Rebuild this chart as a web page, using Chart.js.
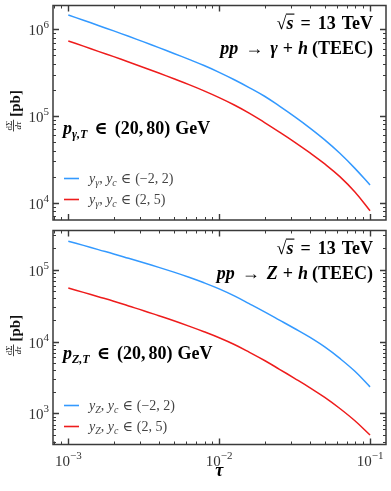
<!DOCTYPE html>
<html>
<head>
<meta charset="utf-8">
<script src="https://cdn.jsdelivr.net/npm/chart.js@4.4.1/dist/chart.umd.min.js"></script>
<style>
html, body { margin: 0; padding: 0; background: #fff; }
#wrap { position: relative; width: 391px; height: 491px; }
canvas { position: absolute; left: 0; }
</style>
</head>
<body>
<div id="wrap">
  <canvas id="cTop" width="391" height="225" style="top:0"></canvas>
  <canvas id="cBot" width="391" height="266" style="top:225px"></canvas>
</div>
<script>
// tau grid (log steps of 0.1) and curves
var tau = [0.001, 0.00126, 0.00158, 0.002, 0.00251, 0.00316, 0.00398, 0.00501, 0.00631, 0.00794,
           0.01, 0.0126, 0.0158, 0.02, 0.0251, 0.0316, 0.0398, 0.0501, 0.0631, 0.0794, 0.1];
var gammaCentral = [1.462e6, 1.274e6, 1.107e6, 9.59e5, 8.30e5, 7.16e5, 6.15e5, 5.27e5, 4.50e5, 3.82e5,
                    3.19e5, 2.62e5, 2.13e5, 1.69e5, 1.30e5, 9.84e4, 7.31e4, 5.31e4, 3.72e4, 2.49e4, 1.60e4];
var gammaForward = [7.33e5, 6.40e5, 5.57e5, 4.84e5, 4.20e5, 3.63e5, 3.13e5, 2.69e5, 2.30e5, 1.95e5,
                    1.63e5, 1.34e5, 1.08e5, 8.41e4, 6.53e4, 5.01e4, 3.78e4, 2.80e4, 2.00e4, 1.33e4, 8.09e3];
var zCentral = [2.495e5, 2.183e5, 1.905e5, 1.660e5, 1.442e5, 1.250e5, 1.079e5, 9.25e4, 7.85e4, 6.58e4,
                5.41e4, 4.32e4, 3.37e4, 2.59e4, 1.99e4, 1.52e4, 1.15e4, 8.41e3, 5.82e3, 3.85e3, 2.34e3];
var zForward = [5.55e4, 4.84e4, 4.21e4, 3.64e4, 3.13e4, 2.69e4, 2.29e4, 1.95e4, 1.64e4, 1.37e4,
                1.13e4, 9.10e3, 7.13e3, 5.45e3, 4.11e3, 3.08e3, 2.29e3, 1.67e3, 1.17e3, 789, 500];

var xTicks = [1e-3, 1e-2, 1e-1];
var xTickExp = ['\u22123', '\u22122', '\u22121'];
var yTicksGamma = [1e4, 1e5, 1e6];
var yTicksGammaExp = ['4', '5', '6'];
var yTicksZ = [1e3, 1e4, 1e5];
var yTicksZExp = ['3', '4', '5'];

var BLUE = '#3399ff';
var RED = '#ee1c1c';
var FRAME = '#3a3a3a';
var SERIF = '"Liberation Serif", "DejaVu Serif", serif';
function fnt(style, size) { return style + ' ' + size + 'px ' + SERIF; }

function richWidth(ctx, segs) {
    var w = 0;
    segs.forEach(function (s) {
        if (s.gap) { w += s.gap; return; }
        ctx.font = s.font;
        w += ctx.measureText(s.t).width;
    });
    return w;
}

function drawRich(ctx, segs, x, y, align) {
    var w = richWidth(ctx, segs);
    var cx = align === 'right' ? x - w : (align === 'center' ? x - w / 2 : x);
    ctx.textAlign = 'left';
    ctx.textBaseline = 'alphabetic';
    var radEnd = null;
    segs.forEach(function (s) {
        if (s.gap) { cx += s.gap; return; }
        ctx.font = s.font;
        ctx.fillStyle = s.color || '#000';
        ctx.fillText(s.t, cx, y + (s.dy || 0));
        var m = ctx.measureText(s.t);
        if (s.radical) radEnd = { x: cx + m.width - 0.5, top: y - m.actualBoundingBoxAscent };
        if (s.over && radEnd) {
            ctx.strokeStyle = '#000';
            ctx.lineWidth = 1.1;
            ctx.beginPath();
            ctx.moveTo(radEnd.x, radEnd.top + 0.6);
            ctx.lineTo(cx + m.width + 1, radEnd.top + 0.6);
            ctx.stroke();
        }
        cx += m.width;
    });
}

function minorValues(min, max) {
    var out = [];
    for (var n = Math.floor(Math.log10(min)); n <= Math.ceil(Math.log10(max)); n++) {
        for (var k = 2; k <= 9; k++) {
            var v = k * Math.pow(10, n);
            if (v > min && v < max) out.push(v);
        }
    }
    return out;
}

var panelPlugin = {
    id: 'panel',
    afterDraw: function (chart) {
        var o = chart.options.plugins.panel;
        var ctx = chart.ctx;
        var a = chart.chartArea;
        var xs = chart.scales.x, ys = chart.scales.y;
        ctx.save();

        // ticks, inward on all four sides
        ctx.strokeStyle = FRAME;
        ctx.lineWidth = 1;
        function hTick(v, len) {
            var py = Math.round(ys.getPixelForValue(v)) + 0.5;
            ctx.beginPath();
            ctx.moveTo(a.left, py); ctx.lineTo(a.left + len, py);
            ctx.moveTo(a.right, py); ctx.lineTo(a.right - len, py);
            ctx.stroke();
        }
        function vTick(v, len) {
            var px = Math.round(xs.getPixelForValue(v)) + 0.5;
            ctx.beginPath();
            ctx.moveTo(px, a.bottom); ctx.lineTo(px, a.bottom - len);
            ctx.moveTo(px, a.top); ctx.lineTo(px, a.top + len);
            ctx.stroke();
        }
        minorValues(ys.min, ys.max).forEach(function (v) { hTick(v, 3); });
        minorValues(xs.min, xs.max).forEach(function (v) { vTick(v, 3); });
        ctx.lineWidth = 1.4;
        o.yTicks.forEach(function (v) { hTick(v, 6); });
        xTicks.forEach(function (v) { vTick(v, 6); });

        // frame
        ctx.lineWidth = 1.5;
        ctx.strokeRect(a.left, a.top, a.right - a.left, a.bottom - a.top);

        // y tick labels 10^n
        o.yTicks.forEach(function (v, i) {
            var py = ys.getPixelForValue(v);
            drawRich(ctx, [
                { t: '10', font: fnt('', 15), color: '#333' },
                { t: o.yTickExp[i], font: fnt('', 11), dy: -7, color: '#333' }
            ], a.left - 4, py + 6, 'right');
        });

        // x tick labels on the lower panel
        if (o.showX) {
            xTicks.forEach(function (v, i) {
                var px = xs.getPixelForValue(v);
                drawRich(ctx, [
                    { t: '10', font: fnt('', 15), color: '#333' },
                    { t: xTickExp[i], font: fnt('', 11), dy: -7, color: '#333' }
                ], px, a.bottom + 21, 'center');
            });
            drawRich(ctx, [{ t: '\u03c4', font: fnt('bold italic', 18) }], xs.getPixelForValue(1e-2), a.bottom + 31, 'center');
        }

        // y axis title: dSigma/dtau [pb]
        var cy = (a.top + a.bottom) / 2 - 2;
        ctx.save();
        ctx.translate(13, cy);
        ctx.rotate(-Math.PI / 2);
        ctx.fillStyle = '#111';
        ctx.font = fnt('', 9);
        var nw = ctx.measureText('d\u03a3').width, dw = ctx.measureText('d\u03c4').width;
        var fw = Math.max(nw, dw) + 2;
        ctx.font = fnt('bold', 15);
        var pw = ctx.measureText('[pb]').width;
        var tot = fw + 3 + pw;
        var x0 = -tot / 2;
        ctx.font = fnt('', 9);
        ctx.textBaseline = 'alphabetic';
        ctx.textAlign = 'center';
        ctx.fillText('d\u03a3', x0 + fw / 2, -1.5);
        ctx.font = fnt('italic', 9);
        ctx.fillText('d\u03c4', x0 + fw / 2, 7.5);
        ctx.strokeStyle = '#111';
        ctx.lineWidth = 0.8;
        ctx.beginPath(); ctx.moveTo(x0, 0.5); ctx.lineTo(x0 + fw, 0.5); ctx.stroke();
        ctx.font = fnt('bold', 15);
        ctx.textAlign = 'left';
        ctx.fillText('[pb]', x0 + fw + 3, 7);
        ctx.restore();

        // annotations
        var B = fnt('bold', 18), BI = fnt('bold italic', 18);
        drawRich(ctx, [
            { t: '\u221a', font: B, radical: true },
            { t: 's', font: BI, over: true },
            { gap: 7 }, { t: '=', font: B }, { gap: 7 },
            { t: '13', font: B }, { gap: 6 }, { t: 'TeV', font: B }
        ], a.right - 13, a.top + 23, 'right');
        drawRich(ctx, [
            { t: 'pp', font: BI }, { gap: 7 },
            { t: '\u2192', font: B }, { gap: 7 },
            { t: o.boson, font: BI }, { gap: 5 },
            { t: '+', font: B }, { gap: 5 },
            { t: 'h', font: BI }, { gap: 4 },
            { t: '(TEEC)', font: B }
        ], a.right - 13, a.top + 48, 'right');
        drawRich(ctx, [
            { t: 'p', font: BI },
            { t: o.sub + ',T', font: fnt('bold italic', 12), dy: 4 },
            { gap: 7 }, { t: '\u2208', font: B }, { gap: 7 },
            { t: '(20,', font: B }, { gap: 3 }, { t: '80)', font: B }, { gap: 5 }, { t: 'GeV', font: B }
        ], a.left + 10, a.top + 128, 'left');

        // legend
        var R = fnt('', 14), I = fnt('italic', 14), S = fnt('italic', 10);
        o.legend.forEach(function (item, i) {
            var ly = a.top + o.legendY + i * 21;
            ctx.strokeStyle = item.color;
            ctx.lineWidth = 1.6;
            ctx.beginPath(); ctx.moveTo(a.left + 11, ly); ctx.lineTo(a.left + 26, ly); ctx.stroke();
            drawRich(ctx, [
                { t: 'y', font: I, color: '#444' },
                { t: o.sub, font: S, dy: 3, color: '#444' },
                { t: ', ', font: R, color: '#444' },
                { t: 'y', font: I, color: '#444' },
                { t: 'c', font: S, dy: 3, color: '#444' },
                { gap: 4 }, { t: '\u2208', font: R, color: '#444' }, { gap: 4 },
                { t: item.range, font: R, color: '#444' }
            ], a.left + 36, ly + 4, 'left');
        });

        ctx.restore();
    }
};

function pts(ys) {
    return ys.map(function (v, i) { return { x: tau[i], y: v }; });
}

function makePanel(id, padBottom, yMin, yMax, central, forward, extra) {
    var panel = Object.assign({ legend: [
        { color: BLUE, range: '(\u22122, 2)' },
        { color: RED, range: '(2, 5)' }
    ] }, extra);
    return new Chart(document.getElementById(id), {
        type: 'line',
        data: {
            datasets: [
                { data: pts(central), borderColor: BLUE },
                { data: pts(forward), borderColor: RED }
            ]
        },
        options: {
            responsive: false,
            animation: false,
            layout: { padding: { left: 53, right: 5, top: 5.5, bottom: padBottom } },
            scales: {
                x: { type: 'logarithmic', min: 7.917e-4, max: 0.1276, display: false },
                y: { type: 'logarithmic', min: yMin, max: yMax, display: false }
            },
            elements: {
                point: { radius: 0 },
                line: { borderWidth: 1.5, tension: 0.4, fill: false }
            },
            plugins: {
                legend: { display: false },
                tooltip: { enabled: false },
                panel: panel
            }
        },
        plugins: [panelPlugin]
    });
}

makePanel('cTop', 5, 6.318e3, 1.882e6, gammaCentral, gammaForward, {
    yTicks: yTicksGamma, yTickExp: yTicksGammaExp, boson: '\u03b3', sub: '\u03b3',
    showX: false, legendY: 173
});
makePanel('cBot', 46.5, 368.7, 3.516e5, zCentral, zForward, {
    yTicks: yTicksZ, yTickExp: yTicksZExp, boson: 'Z', sub: 'Z',
    showX: true, legendY: 175
});
</script>
</body>
</html>
